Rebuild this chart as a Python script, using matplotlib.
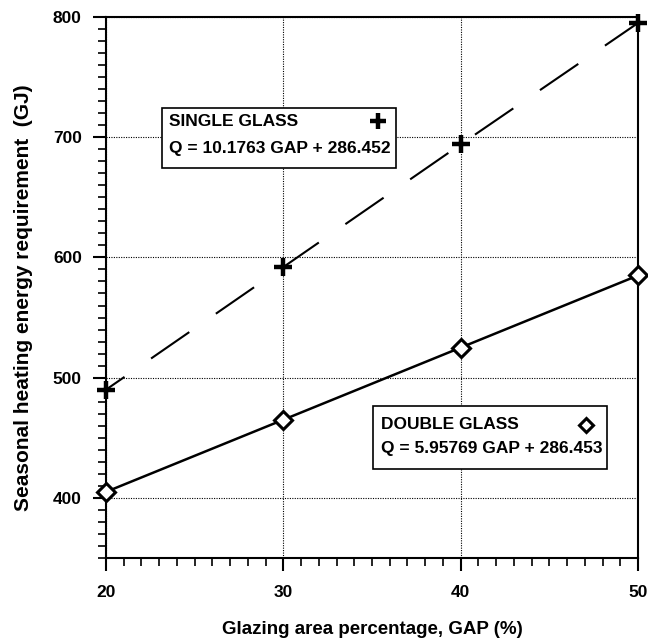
import matplotlib
matplotlib.use("Agg")
import matplotlib.pyplot as plt
from matplotlib.ticker import MultipleLocator
from matplotlib.patches import Rectangle

plt.rcParams['font.family'] = ['Liberation Sans', 'DejaVu Sans']
plt.rcParams['font.weight'] = 'bold'

# data
gap = [20, 30, 40, 50]
single_glass = [490, 592, 694, 795]
double_glass = [405, 465, 525, 585]
single_label = "SINGLE GLASS"
single_eq = "Q = 10.1763 GAP + 286.452"
double_label = "DOUBLE GLASS"
double_eq = "Q = 5.95769 GAP + 286.453"

fig = plt.figure(figsize=(6.48, 6.43), dpi=100)
ax = fig.add_axes([0.1636, 0.1322, 0.821, 0.8414])

# single glass: long dashes with bold plus markers
ax.plot(gap, single_glass, color='black', lw=1.5, ls=(11.5, (22.3, 15.5)), zorder=3)
ax.plot(gap, single_glass, ls='none', marker='+', ms=13, mew=3.2,
        color='black', zorder=4, clip_on=False)
# double glass: solid with open diamonds
ax.plot(gap, double_glass, color='black', lw=1.8, marker='D', ms=9,
        mfc='white', mec='black', mew=2.2, zorder=4, clip_on=False)

ax.set_xlim(20, 50)
ax.set_ylim(350, 800)
ax.xaxis.set_major_locator(MultipleLocator(10))
ax.xaxis.set_minor_locator(MultipleLocator(1))
ax.set_yticks([400, 500, 600, 700, 800])
ax.yaxis.set_minor_locator(MultipleLocator(10))
ax.tick_params(which='major', direction='out', length=9.4, width=1.5,
               labelsize=12.5)
ax.tick_params(which='minor', direction='out', length=5.8, width=1.2)
ax.tick_params(axis='y', which='major', pad=8)
ax.tick_params(axis='x', which='major', pad=10)
for lab in ax.get_xticklabels() + ax.get_yticklabels():
    lab.set_fontweight('bold')
for s in ax.spines.values():
    s.set_linewidth(1.5)

ax.grid(True, which='major', ls=(0, (1, 1.2)), color='black', lw=0.8)

ax.set_xlabel("Glazing area percentage, GAP (%)", fontsize=13.5,
              fontweight='bold', va='center')
ax.xaxis.set_label_coords(0.5, -0.133)
ax.set_ylabel("Seasonal heating energy requirement  (GJ)", fontsize=15,
              fontweight='bold', va='center')
ax.yaxis.set_label_coords(-0.156, 0.482)

# legend boxes with the fitted equations
for x0, y0, w, h in [(0.105, 0.721, 0.44, 0.111), (0.502, 0.165, 0.44, 0.116)]:
    ax.add_patch(Rectangle((x0, y0), w, h, transform=ax.transAxes,
                           fc='white', ec='black', lw=1.2, zorder=5))

ax.text(0.118, 0.806, single_label, transform=ax.transAxes, fontsize=12.5,
        fontweight='bold', va='center', ha='left', zorder=6)
ax.text(0.118, 0.756, single_eq, transform=ax.transAxes, fontsize=12.5,
        fontweight='bold', va='center', ha='left', zorder=6)
ax.plot([0.511], [0.808], transform=ax.transAxes, marker='+', ms=12, mew=3.2,
        color='black', zorder=7)

ax.text(0.517, 0.246, double_label, transform=ax.transAxes, fontsize=12.5,
        fontweight='bold', va='center', ha='left', zorder=6)
ax.text(0.517, 0.203, double_eq, transform=ax.transAxes, fontsize=12.5,
        fontweight='bold', va='center', ha='left', zorder=6)
ax.plot([0.902], [0.246], transform=ax.transAxes, marker='D', ms=7,
        mfc='white', mec='black', mew=2.2, color='black', zorder=7)

fig.savefig("out.png", dpi=100)
